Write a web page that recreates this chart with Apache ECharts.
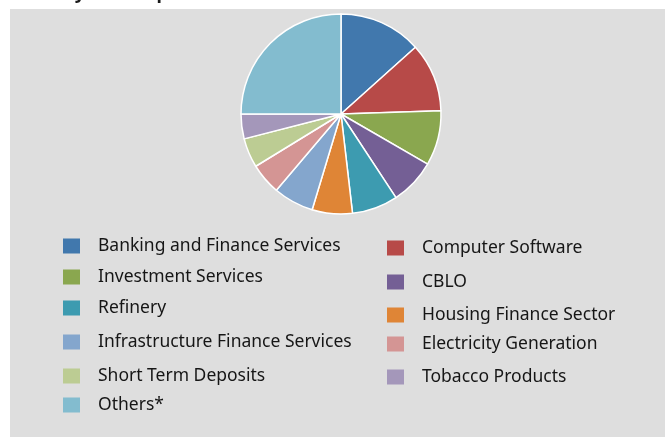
<!DOCTYPE html>
<html>
<head>
<meta charset="utf-8">
<script src="https://cdn.jsdelivr.net/npm/echarts@6/dist/echarts.min.js"></script>
<style>
  html, body { margin: 0; padding: 0; background: #ffffff; }
  #chart { width: 665px; height: 437px; }
</style>
</head>
<body>
<div id="chart"></div>
<script>
// Industry-wise exposure, share of portfolio (%)
const categories = [
  'Banking and Finance Services',
  'Computer Software',
  'Investment Services',
  'CBLO',
  'Refinery',
  'Housing Finance Sector',
  'Infrastructure Finance Services',
  'Electricity Generation',
  'Short Term Deposits',
  'Tobacco Products',
  'Others*'
];
const values = [13.36, 11.12, 8.86, 7.40, 7.42, 6.50, 6.53, 5.06, 4.75, 4.00, 25.00];
const colors = [
  '#4178ad', '#b74a48', '#8aa74f', '#745f95', '#3d9bb0', '#df8536',
  '#84a6cd', '#d49594', '#bccc93', '#a497ba', '#83bccf'
];

// legend layout: two columns, one entry per legend block
const legendSlots = [
  { left: 63,  top: 237 }, // Banking
  { left: 387, top: 239 }, // Computer Software
  { left: 63,  top: 268 }, // Investment
  { left: 387, top: 273 }, // CBLO
  { left: 63,  top: 299 }, // Refinery
  { left: 387, top: 306 }, // Housing
  { left: 63,  top: 333 }, // Infrastructure
  { left: 387, top: 335 }, // Electricity
  { left: 63,  top: 367 }, // Short Term
  { left: 387, top: 368 }, // Tobacco
  { left: 63,  top: 396 }  // Others
];

const chart = echarts.init(document.getElementById('chart'), null, { renderer: 'canvas' });

const legends = categories.map((name, i) => ({
  data: [name],
  left: legendSlots[i].left,
  top: legendSlots[i].top,
  orient: 'vertical',
  padding: 0,
  itemWidth: 17,
  itemHeight: 15,
  icon: 'rect',
  selectedMode: false,
  itemStyle: { borderWidth: 0 },
  textStyle: {
    fontFamily: 'Noto Sans',
    fontSize: 17.5,
    color: '#161616',
    padding: [0, 0, 0, 13]
  }
}));

chart.setOption({
  animation: false,
  backgroundColor: '#ffffff',
  color: colors,
  graphic: [
    {
      type: 'rect',
      shape: { x: 10, y: 9, width: 655, height: 428 },
      style: { fill: '#dedede' },
      z: -10
    },
    {
      type: 'text',
      x: 8,
      y: -6,
      style: {
        text: 'Industry-wise Exposure',
        font: 'bold 18px "Noto Sans"',
        fill: '#1a1a1a',
        verticalAlign: 'middle'
      }
    }
  ],
  legend: legends,
  series: [{
    type: 'pie',
    center: [341, 114],
    radius: [0, 100],
    startAngle: 90,
    clockwise: true,
    label: { show: false },
    labelLine: { show: false },
    emphasis: { disabled: true },
    itemStyle: { borderColor: '#ffffff', borderWidth: 1.5 },
    data: categories.map((name, i) => ({ name, value: values[i] }))
  }]
});
</script>
</body>
</html>
